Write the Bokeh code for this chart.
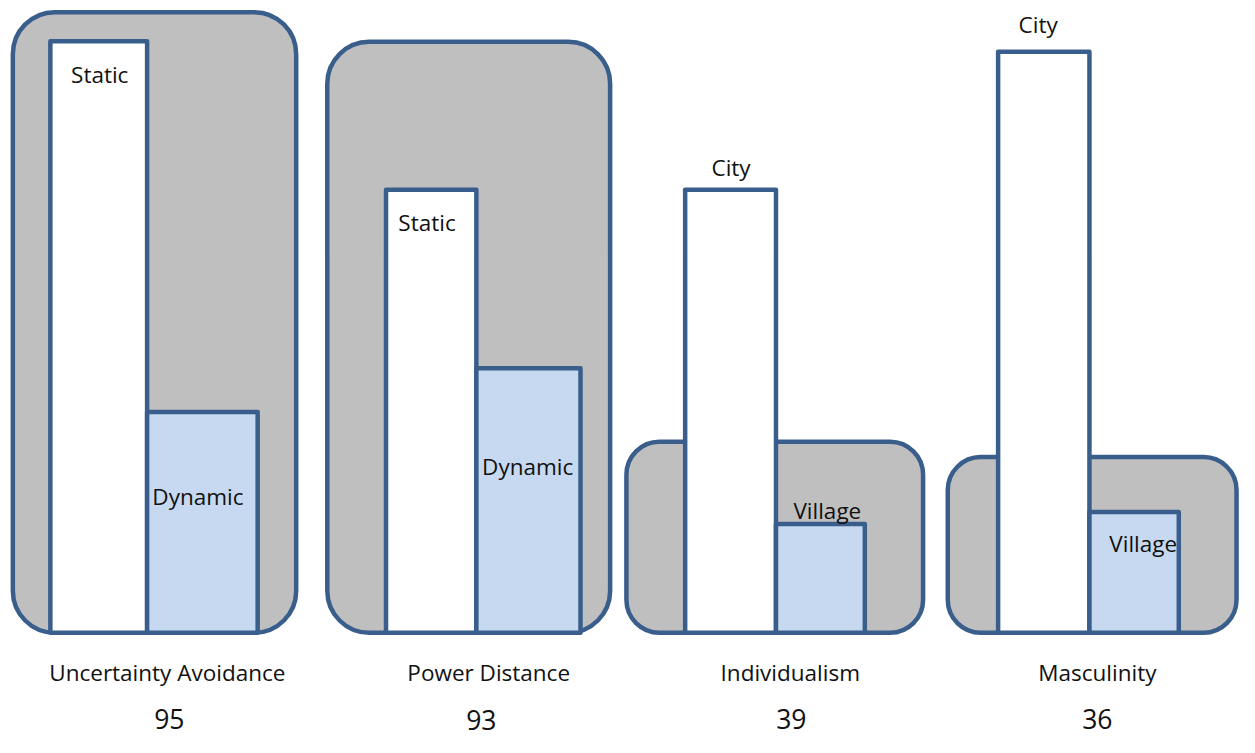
from bokeh.plotting import figure
from bokeh.models import Range1d, ColumnDataSource
from bokeh.core.properties import value
from bokeh.embed import file_html
from bokeh.resources import INLINE

# ---------------- data ----------------
categories = ["Uncertainty Avoidance", "Power Distance", "Individualism", "Masculinity"]
scores = ["95", "93", "39", "36"]
first_labels = ["Static", "Static", "City", "City"]
second_labels = ["Dynamic", "Dynamic", "Village", "Village"]
first_heights = [100.0, 74.9, 74.9, 98.2]      # white bars (relative height)
second_heights = [37.3, 44.7, 18.4, 20.4]      # light-blue bars
panel_heights = [104.9, 99.9, 32.3, 29.7]      # rounded grey panels

# ---------------- layout (x positions in reference-image pixels) ----------------
panel_left = [12.5, 331.0, 634.0, 959.5]
panel_right = [299.5, 617.5, 934.5, 1252.0]
bar1_left = [50.5, 390.5, 693.5, 1010.5]
bar_split = [148.5, 482.0, 785.5, 1103.0]
bar2_right = [260.5, 587.5, 875.5, 1193.5]

first_label_x = [100.5, 432.0, 740.0, 1051.0]
first_label_y = [94.3, 69.4, 78.7, 102.8]
second_label_x = [200.0, 534.0, 837.5, 1157.5]
second_label_y = [23.0, 28.1, 20.6, 15.1]
cat_x = [169.0, 494.5, 800.0, 1111.0]
cat_y = [-6.78] * 4
score_x = [171.0, 487.0, 801.0, 1111.0]
score_y = [-14.6, -14.75, -14.6, -14.6]

EDGE = "#3A5E8C"
GREY = "#BFBFBF"
LIGHT = "#C6D9F0"
FONT = value("Open Sans")

p = figure(width=1239, height=737, output_backend="svg", toolbar_location=None,
           x_range=Range1d(0, 1255), y_range=Range1d(-17.70, 106.87),
           min_border=0, x_axis_location=None, y_axis_location=None)
p.grid.visible = False
p.outline_line_color = None
p.background_fill_color = "white"
p.border_fill_color = "white"

big = ColumnDataSource(dict(left=panel_left[:2], right=panel_right[:2],
                            top=panel_heights[:2], bottom=[0, 0]))
small = ColumnDataSource(dict(left=panel_left[2:], right=panel_right[2:],
                              top=panel_heights[2:], bottom=[0, 0]))
p.quad(left="left", right="right", top="top", bottom="bottom", source=big,
       border_radius=42, fill_color=GREY, line_color=EDGE, line_width=4.5)
p.quad(left="left", right="right", top="top", bottom="bottom", source=small,
       border_radius=33, fill_color=GREY, line_color=EDGE, line_width=4.5)

b1 = ColumnDataSource(dict(left=bar1_left, right=bar_split, top=first_heights,
                           bottom=[0] * 4))
b2 = ColumnDataSource(dict(left=bar_split, right=bar2_right, top=second_heights,
                           bottom=[0] * 4))
p.quad(left="left", right="right", top="top", bottom="bottom", source=b1,
       fill_color="white", line_color=EDGE, line_width=4.5, line_join="round")
p.quad(left="left", right="right", top="top", bottom="bottom", source=b2,
       fill_color=LIGHT, line_color=EDGE, line_width=4.5, line_join="round")

tkw = dict(text_align="center", text_baseline="alphabetic", text_font=FONT,
           text_color="#111111")
p.text(x=first_label_x, y=first_label_y, text=first_labels, text_font_size="22.5px", **tkw)
p.text(x=second_label_x, y=second_label_y, text=second_labels, text_font_size="22.5px", **tkw)
p.text(x=cat_x, y=cat_y, text=categories, text_font_size="22.5px", **tkw)
p.text(x=score_x, y=score_y, text=scores, text_font_size="26.5px", **tkw)

open("out.html", "w").write(file_html(p, INLINE))
